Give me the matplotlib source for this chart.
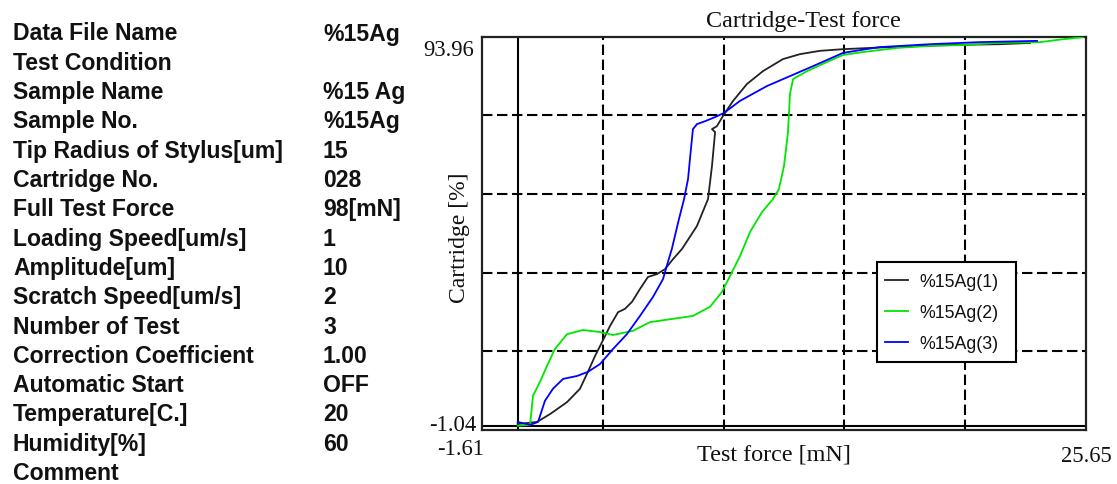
import numpy as np
import matplotlib
matplotlib.use("Agg")
import matplotlib.pyplot as plt
from matplotlib.patches import Rectangle

# ---- test conditions (left-hand table) ----
param_names = [
    "Data File Name", "Test Condition", "Sample Name", "Sample No.",
    "Tip Radius of Stylus[um]", "Cartridge No.", "Full Test Force",
    "Loading Speed[um/s]", "Amplitude[um]", "Scratch Speed[um/s]",
    "Number of Test", "Correction Coefficient", "Automatic Start",
    "Temperature[C.]", "Humidity[%]", "Comment",
]
param_values = [
    "%15Ag", "", "%15 Ag", "%15Ag", "15", "028", "98[mN]", "1", "10", "2",
    "3", "1.00", "OFF", "20", "60", "",
]

# ---- axis limits ----
x_min, x_max = -1.61, 25.65
y_min, y_max = -1.04, 93.96

# ---- curves: test force [mN] vs cartridge [%] ----
force_1 = [0.0, 0.87, 1.46, 2.23, 2.81, 3.17, 3.49, 3.81, 4.17, 4.53, 4.84,
           5.16, 5.52, 5.88, 6.29, 6.65, 7.01, 7.42, 8.09, 8.59, 8.77, 8.91,
           8.77, 8.99, 9.27, 9.72, 10.35, 11.07, 11.97, 12.74, 13.64, 14.68,
           16.76, 19.51, 21.77, 23.12]
cart_1 = [0.4, 0.9, 2.8, 5.7, 8.9, 13.0, 16.8, 20.2, 24.1, 27.4, 28.2,
          29.9, 33.0, 35.9, 36.6, 37.8, 40.2, 42.7, 48.2, 54.7, 62.7, 70.9,
          71.6, 72.3, 74.8, 78.4, 82.5, 85.6, 88.5, 89.7, 90.5, 90.9,
          91.4, 91.9, 92.1, 92.4]

force_2 = [0.0, 0.56, 0.69, 1.01, 1.32, 1.68, 2.23, 2.95, 3.72, 4.30, 5.20,
           5.97, 7.01, 7.91, 8.68, 9.22, 9.58, 10.03, 10.49, 11.03, 11.52,
           11.79, 12.02, 12.20, 12.29, 12.43, 13.06, 13.96, 14.68, 15.58,
           17.12, 18.61, 20.10, 21.63, 23.57, 24.61, 25.51]
cart_2 = [0.0, 0.2, 7.2, 10.6, 14.4, 18.5, 22.1, 23.1, 22.6, 21.9, 22.9,
          25.0, 25.8, 26.5, 28.7, 32.3, 36.1, 40.9, 46.8, 51.6, 54.7,
          57.1, 62.7, 70.9, 80.1, 83.7, 85.6, 87.8, 89.5, 90.2,
          91.2, 91.7, 91.9, 92.4, 92.6, 93.3, 93.8]

force_3 = [0.0, 0.56, 0.92, 1.23, 1.59, 2.05, 2.68, 3.17, 3.72, 4.30, 4.93,
           5.52, 6.11, 6.56, 6.78, 6.96, 7.28, 7.51, 7.69, 7.82, 7.91, 8.09,
           8.45, 8.91, 9.31, 10.03, 11.25, 12.29, 13.33, 14.68, 15.72, 16.35,
           18.61, 20.86, 23.44]
cart_3 = [0.9, 0.2, 0.9, 6.0, 8.9, 11.3, 12.0, 13.0, 14.9, 18.5, 22.1,
          26.5, 31.1, 35.4, 39.5, 42.7, 49.9, 54.7, 59.6, 66.8, 71.6, 72.8,
          73.5, 74.5, 75.5, 78.4, 82.0, 84.4, 86.8, 90.0, 90.9, 91.4,
          92.1, 92.6, 92.9]

series_labels = ["%15Ag(1)", "%15Ag(2)", "%15Ag(3)"]
series_colors = ["#222222", "#00e600", "#0000ff"]

W, H = 1117, 485
fig = plt.figure(figsize=(W / 100, H / 100), dpi=100)
fig.patch.set_facecolor("white")


def fx(px):
    return px / W


def fy(py):
    return 1 - py / H


txt_color = "#111111"

# left-hand parameter table
for i, (name, val) in enumerate(zip(param_names, param_values)):
    base = 40.5 + i * 29.3
    fig.text(fx(13), fy(base), name, family="Liberation Sans", weight="bold",
             fontsize=16.6, color=txt_color, va="baseline", ha="left")
    if val:
        fig.text(fx(323), fy(base), val, family="Liberation Sans",
                 weight="bold", fontsize=16.6, color=txt_color,
                 va="baseline", ha="left")

# chart
ax_l, ax_r, ax_t, ax_b = 482, 1086, 37.5, 431
ax = fig.add_axes([fx(ax_l), fy(ax_b), fx(ax_r) - fx(ax_l), fy(ax_t) - fy(ax_b)])
ax.set_xlim(x_min, x_max)
ax.set_ylim(y_min, y_max)
ax.set_xticks([])
ax.set_yticks([])
for sp in ax.spines.values():
    sp.set_linewidth(1.6)
    sp.set_color("#222222")

grid_x = np.linspace(x_min, x_max, 6)[1:-1]
grid_y = np.linspace(y_min, y_max, 6)[1:-1]
for gx in grid_x:
    ax.axvline(gx, color="black", lw=1.5, dashes=(5, 2.2), zorder=1)
for gy in grid_y:
    ax.axhline(gy, color="black", lw=1.5, dashes=(5, 2.2), zorder=1)
ax.axvline(0, color="black", lw=1.5, zorder=1)
ax.axhline(0, color="black", lw=1.5, zorder=1)

for xs, ys, lab, col in zip([force_1, force_2, force_3],
                            [cart_1, cart_2, cart_3],
                            series_labels, series_colors):
    ax.plot(xs, ys, color=col, lw=1.3, label=lab, zorder=3)


def ax_x(px):
    return (px - ax_l) / (ax_r - ax_l)


def ax_y(py):
    return (ax_b - py) / (ax_b - ax_t)


# legend box
bx0, bx1, by0, by1 = 877, 1016, 263, 363
ax.add_patch(Rectangle((ax_x(bx0), ax_y(by1)), ax_x(bx1) - ax_x(bx0),
                       ax_y(by0) - ax_y(by1), transform=ax.transAxes,
                       facecolor="white", edgecolor="black", lw=1.5,
                       zorder=4))
leg = ax.legend(loc="upper left", bbox_to_anchor=(ax_x(885), ax_y(274)),
                borderaxespad=0, borderpad=0, frameon=False,
                prop={"family": "Liberation Sans", "size": 12.8},
                handlelength=1.3, handletextpad=0.65, labelspacing=0.78)
leg.set_zorder(5)
for t in leg.get_texts():
    t.set_color(txt_color)

serif = "Liberation Serif"
fig.text(fx(803), fy(22), "Cartridge-Test force", family=serif, fontsize=17.4,
         color=txt_color, ha="center", va="center")
fig.text(fx(774), fy(455), "Test force [mN]", family=serif, fontsize=17.4,
         color=txt_color, ha="center", va="center")
fig.text(fx(460), fy(238), "Cartridge [%]", family=serif, fontsize=17,
         color=txt_color, ha="center", va="center", rotation=90)
fig.text(fx(474), fy(51), f"{y_max:.2f}", family=serif, fontsize=16.3,
         color=txt_color, ha="right", va="center")
fig.text(fx(476), fy(426), f"{y_min:.2f}", family=serif, fontsize=16.3,
         color=txt_color, ha="right", va="center")
fig.text(fx(461), fy(450), f"{x_min:.2f}", family=serif, fontsize=16.3,
         color=txt_color, ha="center", va="center")
fig.text(fx(1086), fy(457), f"{x_max:.2f}", family=serif, fontsize=16.3,
         color=txt_color, ha="center", va="center")

fig.savefig("out.png", dpi=100, facecolor="white")
